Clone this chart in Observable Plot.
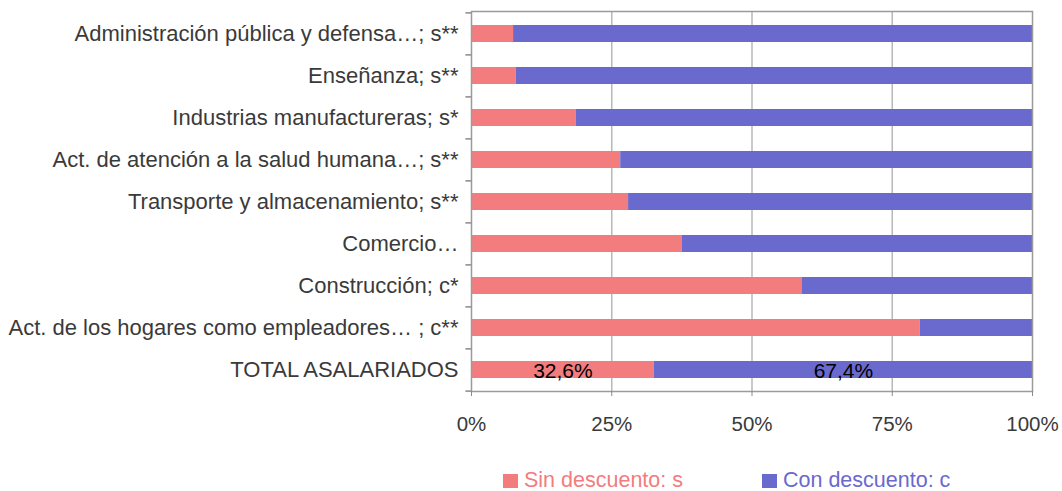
<!DOCTYPE html>
<html>
<head>
<meta charset="utf-8">
<script src="https://cdn.jsdelivr.net/npm/d3@7"></script>
<script src="https://cdn.jsdelivr.net/npm/@observablehq/plot@0.6"></script>
<style>
  html, body { margin: 0; padding: 0; background: #fff; }
  body { width: 1062px; height: 491px; overflow: hidden; font-family: "Liberation Sans", Arial, sans-serif; }
  #legend { position: relative; height: 41px; }
  .item { position: absolute; top: 18px; display: flex; align-items: center; font-size: 21.5px; line-height: 25px; }
  .sw { width: 15px; height: 14px; margin-right: 6px; }
</style>
</head>
<body>
<div id="chart"></div>
<div id="legend"></div>
<script>
const categories = [
  "Administración pública y defensa…; s**",
  "Enseñanza; s**",
  "Industrias manufactureras; s*",
  "Act. de atención a la salud humana…; s**",
  "Transporte y almacenamiento; s**",
  "Comercio…",
  "Construcción; c*",
  "Act. de los hogares como empleadores… ; c**",
  "TOTAL ASALARIADOS"
];
const sinDescuento = [7.5, 8.0, 18.7, 26.6, 28.0, 37.6, 59.0, 80.0, 32.6];
const conDescuento = sinDescuento.map(v => +(100 - v).toFixed(1));
const seriesNames = ["Sin descuento: s", "Con descuento: c"];
const seriesColors = ["#F37C7E", "#6A69CD"];
const xTicks = [0, 25, 50, 75, 100];
const totalLabels = ["32,6%", "67,4%"];

const rows = [];
categories.forEach((c, i) => {
  rows.push({cat: c, serie: seriesNames[0], v: sinDescuento[i]});
  rows.push({cat: c, serie: seriesNames[1], v: conDescuento[i]});
});
const totalIdx = categories.length - 1;
const totalCat = categories[totalIdx];
const totalRows = [
  {cat: totalCat, x: sinDescuento[totalIdx] / 2, label: totalLabels[0]},
  {cat: totalCat, x: sinDescuento[totalIdx] + conDescuento[totalIdx] / 2, label: totalLabels[1]}
];

const W = 1062, H = 450, mT = 11, mB = 59, mL = 471, mR = 30;
const half = (H - mT - mB) / categories.length / 2;

const chart = Plot.plot({
  width: W, height: H,
  marginTop: mT, marginBottom: mB, marginLeft: mL, marginRight: mR,
  style: {fontFamily: "'Liberation Sans', Arial, sans-serif", fontSize: "22px", color: "#3a3a3a", background: "#fff"},
  x: {domain: [0, 100], ticks: xTicks, tickFormat: d => d + "%", label: null},
  y: {domain: categories, paddingInner: 0.6, paddingOuter: 0.3, label: null},
  color: {domain: seriesNames, range: seriesColors},
  marks: [
    Plot.ruleX([25, 50, 75], {stroke: "#b8b8b8", strokeWidth: 1.5}),
    Plot.barX(rows, {y: "cat", x: "v", fill: "serie", order: seriesNames}),
    Plot.frame({stroke: "#9a9a9a", strokeWidth: 1.5}),
    Plot.ruleY(categories, {y: d => d, x1: -1, x2: 0, dy: -half, stroke: "#8a8a8a", strokeWidth: 1.5}),
    Plot.ruleY([totalCat], {y: d => d, x1: -1, x2: 0, dy: half, stroke: "#8a8a8a", strokeWidth: 1.5}),
    Plot.axisY({tickSize: 0, tickPadding: 13, fill: "#3a3a3a", fontSize: 22}),
    Plot.axisX({ticks: xTicks, tickFormat: d => d + "%", tickSize: 5, tickPadding: 20, stroke: "#8a8a8a", fill: "#3a3a3a", fontSize: 20.5, label: null}),
    Plot.text(totalRows, {y: "cat", x: "x", text: "label", fill: "#000", fontSize: 21, dy: 1})
  ]
});
document.getElementById("chart").appendChild(chart);

const legend = document.getElementById("legend");
const legendX = [503, 762];
seriesNames.forEach((s, i) => {
  const it = document.createElement("div");
  it.className = "item";
  it.style.left = legendX[i] + "px";
  it.style.color = seriesColors[i];
  const sw = document.createElement("div");
  sw.className = "sw";
  sw.style.background = seriesColors[i];
  it.appendChild(sw);
  it.appendChild(document.createTextNode(s));
  legend.appendChild(it);
});
</script>
</body>
</html>
